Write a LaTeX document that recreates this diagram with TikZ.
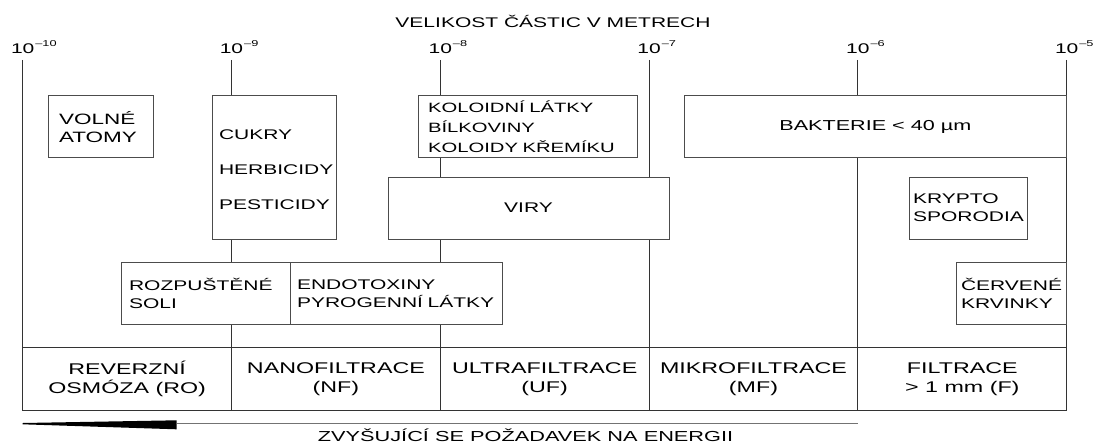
\documentclass[tikz,border=0pt]{standalone}
\usepackage{fontspec}
\setmainfont{Liberation Sans}[FakeStretch=1.5]
\usepackage{tikz}

\newcommand{\tenpow}[1]{10\rlap{\hspace{1pt}\raisebox{7pt}{\fontsize{8.5}{9}\selectfont\textendash#1}}}

\tikzset{
  gridline/.style={draw=black!80, line width=0.9pt},
  ticklab/.style={anchor=base, inner sep=0pt, font=\fontsize{14}{14}\selectfont},
  itembox/.style={draw=black!70, line width=0.9pt, fill=white, inner ysep=0pt,
    align=left, font=\fontsize{14}{18}\selectfont},
  cell/.style={draw=black!80, line width=0.9pt, minimum width=208.8pt,
    minimum height=62.3pt, inner sep=0pt, align=center,
    font=\fontsize{15.5}{19}\selectfont,
    execute at begin node={\rule{0pt}{20pt}}},
}

\begin{document}
\begin{tikzpicture}[x=1pt,y=-1pt]
  \useasboundingbox (0,0) rectangle (1094,444);
  % size axis
  \coordinate (a0) at (22.7,60);   \coordinate (b0) at (22.7,347.7);
  \coordinate (a1) at (231.5,60);  \coordinate (b1) at (231.5,347.7);
  \coordinate (a2) at (440.3,60);  \coordinate (b2) at (440.3,347.7);
  \coordinate (a3) at (649.1,60);  \coordinate (b3) at (649.1,347.7);
  \coordinate (a4) at (857.9,60);  \coordinate (b4) at (857.9,347.7);
  \coordinate (a5) at (1066.7,60); \coordinate (b5) at (1066.7,347.7);
  \draw[gridline] (a0)--(b0);
  \draw[gridline] (a1)--(b1);
  \draw[gridline] (a2)--(b2);
  \draw[gridline] (a3)--(b3);
  \draw[gridline] (a4)--(b4);
  \draw[gridline] (a5)--(b5);
  \node[ticklab] (t10) at (22.7,54) {\tenpow{10}};
  \node[ticklab] (t9) at (231.5,54) {\tenpow{9}};
  \node[ticklab] (t8) at (440.3,54) {\tenpow{8}};
  \node[ticklab] (t7) at (649.1,54) {\tenpow{7}};
  \node[ticklab] (t6) at (857.9,54) {\tenpow{6}};
  \node[ticklab] (t5) at (1066.7,54) {\tenpow{5}};
  \node[anchor=base, inner sep=0pt, font=\fontsize{14}{14}\selectfont] (title) at (553,28)
    {VELIKOST ČÁSTIC V METRECH};

  % particles
  \node[itembox, font=\fontsize{15}{18}\selectfont, text width=83pt, inner xsep=11pt,
    minimum height=62pt] (atoms) at (100.5,126.7) {VOLNÉ\\ATOMY};
  \node[itembox, font=\fontsize{14}{35}\selectfont, text width=110pt, inner xsep=7pt,
    minimum height=143.3pt] (sugar) at (274,167.4) {\rule{0pt}{15pt}CUKRY\\HERBICIDY\\PESTICIDY};
  \node[itembox, font=\fontsize{13.5}{20.3}\selectfont, text width=199.5pt, inner xsep=9.5pt,
    minimum height=62pt] (colloid) at (527.75,126.7) {KOLOIDNÍ LÁTKY\\BÍLKOVINY\\KOLOIDY KŘEMÍKU};
  \node[itembox, align=center, minimum width=281pt, minimum height=62pt] (virus) at (528.5,208) {VIRY};
  \node[itembox, align=center, font=\fontsize{14.4}{18}\selectfont, minimum width=382.7pt,
    minimum height=62pt] (bact) at (875.35,126.7) {BAKTERIE < 40 µm};
  \node[itembox, text width=110pt, inner xsep=4pt, minimum height=62pt] (crypto) at (968,208)
    {KRYPTO\\SPORODIA};
  \node[itembox, text width=153.7pt, inner xsep=7.3pt, minimum height=62.5pt] (salt) at (205.85,293.25)
    {ROZPUŠTĚNÉ\\SOLI};
  \node[itembox, text width=198pt, inner xsep=7pt, minimum height=62.5pt] (endo) at (396,293.25)
    {ENDOTOXINY\\PYROGENNÍ LÁTKY};
  \node[itembox, text width=100.7pt, inner xsep=5pt, minimum height=62.5pt] (blood) at (1011.35,293.25)
    {ČERVENÉ\\KRVINKY};

  % processes
  \node[cell] (ro) at (127.1,378.85) {REVERZNÍ\\OSMÓZA (RO)};
  \node[cell] (nf) at (335.9,378.85) {NANOFILTRACE\\(NF)};
  \node[cell] (uf) at (544.7,378.85) {ULTRAFILTRACE\\(UF)};
  \node[cell] (mf) at (753.5,378.85) {MIKROFILTRACE\\(MF)};
  \node[cell] (ff) at (962.3,378.85) {FILTRACE\\> 1 mm (F)};

  % energy wedge
  \coordinate (e0) at (22.7,423.6);
  \coordinate (e1) at (176.7,423.8);
  \coordinate (e2) at (857.9,423.8);
  \fill[black] (22.7,423) -- (176.7,420.3) -- (176.7,429.3) -- (22.7,424.3) -- cycle;
  \draw[black!55, line width=1pt] (e1) -- (e2);
  \node[anchor=base, inner sep=0pt, font=\fontsize{14.5}{14.5}\selectfont] (energy) at (525.5,441)
    {ZVYŠUJÍCÍ SE POŽADAVEK NA ENERGII};
\end{tikzpicture}
\end{document}
